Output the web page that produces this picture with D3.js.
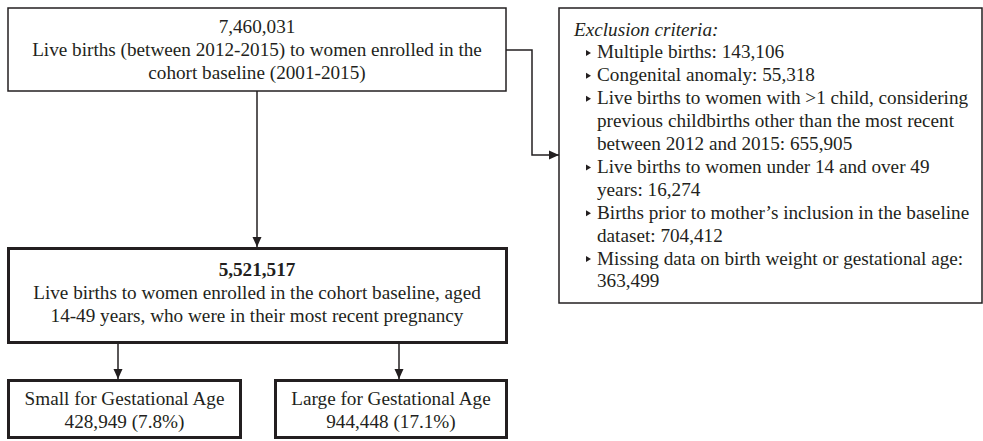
<!DOCTYPE html>
<html>
<head>
<meta charset="utf-8">
<script src="https://cdn.jsdelivr.net/npm/d3@7"></script>
<style>
  html, body { margin: 0; padding: 0; background: #fff; }
  svg { display: block; }
</style>
</head>
<body>
<svg id="chart" width="983" height="441"></svg>
<script>
(function(){
'use strict';

// chart content
var topLines = ['7,460,031',
    'Live births (between 2012-2015) to women enrolled in the',
    'cohort baseline (2001-2015)'];
var mainLines = ['5,521,517',
    'Live births to women enrolled in the cohort baseline, aged',
    '14-49 years, who were in their most recent pregnancy'];
var outcomeLabels = ['Small for Gestational Age', 'Large for Gestational Age'];
var outcomeCounts = ['428,949 (7.8%)', '944,448 (17.1%)'];
var exclusionTitle = 'Exclusion criteria:';
var exclusionItems = [
    ['Multiple births: 143,106'],
    ['Congenital anomaly: 55,318'],
    ['Live births to women with >1 child, considering',
     'previous childbirths other than the most recent',
     'between 2012 and 2015: 655,905'],
    ['Live births to women under 14 and over 49',
     'years: 16,274'],
    ['Births prior to mother\u2019s inclusion in the baseline',
     'dataset: 704,412'],
    ['Missing data on birth weight or gestational age:',
     '363,499']
];

var INK = '#231f20';
var FONT = '"Liberation Serif", "Times New Roman", serif';
var SIZE = 19.2;
var LINE = 23.2;
var LIST_LINE = 22.9;

var svg = d3.select('#chart');

svg.append('defs').append('marker')
    .attr('id', 'arrow')
    .attr('viewBox', '0 0 10 10')
    .attr('refX', 10).attr('refY', 5)
    .attr('markerWidth', 10).attr('markerHeight', 10)
    .attr('markerUnits', 'userSpaceOnUse')
    .attr('orient', 'auto')
  .append('path')
    .attr('d', 'M0,0.5 L10,5 L0,9.5 Z')
    .attr('fill', INK);

// box layout
var boxes = {
    top:  {x: 8, y: 8, w: 498, h: 83, sw: 1.5},
    main: {x: 8.5, y: 248.5, w: 498, h: 94, sw: 3},
    sga:  {x: 8.5, y: 380.5, w: 232, h: 57, sw: 3},
    lga:  {x: 275.5, y: 380.5, w: 231, h: 57, sw: 3},
    excl: {x: 559, y: 8, w: 423, h: 295, sw: 1.5}
};

function drawBox(b){
    svg.append('rect')
        .attr('x', b.x).attr('y', b.y)
        .attr('width', b.w).attr('height', b.h)
        .attr('fill', 'none')
        .attr('stroke', INK)
        .attr('stroke-width', b.sw);
}

function centeredText(lines, cx, firstBaseline, boldFirst){
    var t = svg.append('g')
        .attr('font-family', FONT)
        .attr('font-size', SIZE)
        .attr('fill', INK)
        .attr('text-anchor', 'middle');
    t.selectAll('text').data(lines).enter().append('text')
        .attr('x', cx)
        .attr('y', function(d, i){ return firstBaseline + i * LINE; })
        .attr('font-weight', function(d, i){ return (boldFirst && i === 0) ? 'bold' : 'normal'; })
        .text(function(d){ return d; });
}

function connector(points){
    svg.append('path')
        .attr('d', d3.line()(points))
        .attr('fill', 'none')
        .attr('stroke', INK)
        .attr('stroke-width', 1.5)
        .attr('marker-end', 'url(#arrow)');
}

Object.keys(boxes).forEach(function(k){ drawBox(boxes[k]); });

// connectors
var b = boxes;
var topCx = 257;
connector([[topCx, b.top.y + b.top.h], [topCx, b.main.y - 1.5]]);
connector([[b.top.x + b.top.w, 50], [532, 50], [532, 155], [b.excl.x, 155]]);
connector([[118, b.main.y + b.main.h + 1.5], [118, b.sga.y - 1.5]]);
connector([[399, b.main.y + b.main.h + 1.5], [399, b.lga.y - 1.5]]);

// box texts
centeredText(topLines, topCx, 33, false);
centeredText(mainLines, topCx, 276, true);
centeredText([outcomeLabels[0], outcomeCounts[0]], b.sga.x + b.sga.w / 2, 405, false);
centeredText([outcomeLabels[1], outcomeCounts[1]], b.lga.x + b.lga.w / 2, 405, false);

// exclusion list
var ex = svg.append('g')
    .attr('font-family', FONT)
    .attr('font-size', SIZE)
    .attr('fill', INK);

var y0 = 35.5;
ex.append('text')
    .attr('x', 574).attr('y', y0)
    .attr('font-style', 'italic')
    .text(exclusionTitle);

var row = 1;
exclusionItems.forEach(function(item){
    var yb = y0 + row * LIST_LINE;
    ex.append('path')
        .attr('d', 'M0,-3 L5,0 L0,3 Z')
        .attr('transform', 'translate(586,' + (yb - 5.5) + ')')
        .attr('fill', INK);
    item.forEach(function(line, j){
        ex.append('text')
            .attr('x', 597)
            .attr('y', y0 + (row + j) * LIST_LINE)
            .text(line);
    });
    row += item.length;
});

})();
</script>
</body>
</html>
